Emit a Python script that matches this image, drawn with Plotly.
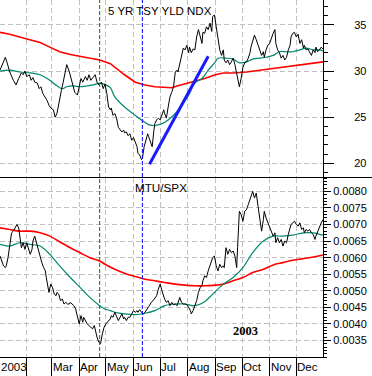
import pandas as pd
import plotly.graph_objects as go

# ---------------- data (day-of-year 2003, Jan 1 = 0) ----------------
tsy_days = [1, 7, 9, 12, 16, 19, 22, 25, 27, 29, 31, 34, 36, 38, 40, 43, 45, 47, 49, 52, 54, 56, 58, 61, 63, 65, 67, 70, 72, 74,
            76, 79, 81, 83, 85, 88, 90, 92, 94, 97, 99, 101, 103, 106, 108, 110, 112, 115, 117, 119, 121, 123, 125, 126, 128, 130,
            132, 134, 136, 138, 140, 141, 143, 145, 147, 149, 151, 153, 155, 156, 158, 160, 161, 163, 165, 167, 168, 170, 172, 174,
            175, 177, 179, 181, 183, 185, 186, 188, 190, 192, 194, 196, 198, 200, 201, 203, 205, 207, 209, 211, 213, 214, 216, 218,
            220, 222, 224, 226, 228, 229, 231, 233, 235, 237, 239, 240, 242, 244, 246, 248, 250, 252, 253, 255, 257, 259, 261, 263,
            265, 267, 268, 270, 272, 274, 276, 278, 280, 282, 283, 285, 287, 289, 291, 293, 295, 297, 298, 300, 302, 304, 306, 308,
            310, 311, 313, 315, 317, 319, 321, 323, 325, 327, 328, 330, 332, 334, 336, 338, 340, 342, 343, 345, 347, 349, 351, 353,
            355, 356, 358, 360, 362, 364]
tsy_vals = [30.1, 31.5, 30.9, 29.9, 29.0, 28.5, 29.2, 29.8, 29.6, 30.0, 29.4, 29.6, 29.0, 29.3, 28.8, 28.7, 28.1, 28.3, 27.6, 27.2,
            26.8, 26.3, 26.0, 25.8, 25.0, 25.4, 26.6, 27.9, 28.8, 29.6, 30.7, 29.9, 29.2, 28.5, 27.7, 27.4, 28.3, 29.2, 28.8, 29.4,
            29.0, 29.6, 29.0, 29.3, 29.6, 28.8, 28.5, 28.8, 28.1, 28.6, 27.6, 26.1, 25.8, 26.0, 25.2, 25.4, 24.9, 23.9, 23.6, 23.4,
            23.6, 23.3, 23.4, 23.0, 23.2, 22.5, 22.8, 22.2, 21.8, 21.1, 20.9, 20.4, 20.5, 21.8, 22.5, 23.2, 22.9, 22.2, 21.8, 23.6,
            24.3, 24.7, 24.9, 24.7, 25.2, 25.8, 25.4, 24.9, 26.1, 27.2, 27.7, 28.3, 29.9, 30.1, 29.9, 30.7, 31.7, 32.5, 32.3, 32.8,
            32.0, 32.6, 32.0, 32.4, 32.3, 33.7, 34.5, 33.7, 33.0, 34.2, 34.1, 34.8, 34.5, 35.2, 34.3, 35.9, 36.1, 34.8, 33.4, 32.3,
            31.7, 32.3, 31.2, 30.9, 31.2, 30.7, 31.0, 31.4, 30.7, 29.8, 29.0, 28.3, 29.2, 30.4, 30.9, 31.0, 31.4, 32.0, 32.6, 33.4,
            33.9, 33.4, 32.8, 32.3, 31.7, 32.1, 31.5, 32.3, 32.8, 33.0, 33.7, 34.1, 34.5, 33.0, 32.3, 32.0, 31.4, 31.7, 31.2, 31.5,
            32.3, 32.8, 33.7, 34.1, 34.2, 33.7, 34.0, 33.0, 33.4, 32.5, 32.8, 32.3, 32.4, 32.0, 31.7, 32.3, 32.0, 32.6, 32.1, 32.3,
            32.6, 32.4]

tsy_ma_short_days = [1, 12, 23, 35, 46, 57, 65, 71, 76, 83, 91, 99, 106, 113, 120, 125, 130, 141, 153, 160, 168, 175, 183, 190,
                     198, 205, 213, 220, 228, 235, 243, 246, 255, 263, 270, 278, 285, 293, 300, 308, 315, 323, 330, 338, 345,
                     353, 360, 364]
tsy_ma_short = [30.0, 30.1, 29.9, 29.8, 29.6, 29.0, 28.4, 28.1, 28.3, 28.4, 28.3, 28.4, 28.5, 28.7, 28.5, 28.2, 27.2, 26.1, 25.2,
                24.7, 24.2, 24.1, 24.3, 24.7, 25.4, 26.3, 27.4, 28.7, 29.2, 30.1, 31.0, 31.4, 31.4, 31.3, 30.9, 31.0, 31.3, 31.4,
                31.5, 31.7, 32.1, 32.1, 32.1, 32.3, 32.5, 32.3, 32.3, 32.2]

tsy_ma_long_days = [1, 12, 23, 35, 46, 57, 68, 80, 91, 102, 113, 125, 130, 141, 153, 164, 175, 186, 194, 201, 209, 216, 224,
                    231, 243, 252, 263, 278, 293, 308, 323, 338, 353, 364]
tsy_ma_long = [34.2, 34.0, 33.7, 33.4, 33.1, 32.6, 32.1, 31.8, 31.6, 31.4, 31.2, 30.8, 30.4, 29.6, 28.8, 28.5, 28.3, 28.2, 28.2,
               28.4, 28.6, 28.8, 29.0, 29.2, 29.6, 29.8, 29.8, 29.9, 30.1, 30.3, 30.5, 30.7, 30.9, 31.0]

mtu_days = [1, 3, 5, 7, 8, 10, 12, 14, 16, 18, 20, 22, 23, 25, 27, 29, 31, 33, 35, 37, 38, 40, 42, 44, 46, 48, 50, 52, 53, 55,
            56, 58, 60, 62, 64, 65, 67, 69, 71, 73, 75, 77, 79, 80, 82, 84, 86, 88, 90, 92, 94, 95, 97, 99, 101, 103, 105, 107,
            109, 110, 112, 114, 116, 118, 120, 122, 125, 126, 128, 130, 132, 134, 136, 138, 140, 141, 143, 145, 147, 149, 151,
            153, 155, 156, 158, 160, 162, 164, 166, 168, 170, 171, 173, 175, 177, 179, 181, 183, 185, 186, 188, 190, 192, 194,
            196, 198, 200, 201, 203, 205, 207, 209, 211, 213, 215, 216, 218, 220, 222, 224, 226, 228, 229, 231, 233, 235, 237,
            239, 240, 242, 244, 246, 248, 250, 252, 253, 255, 257, 259, 261, 263, 265, 267, 268, 270, 272, 274, 276, 278, 280,
            282, 283, 285, 287, 289, 291, 293, 295, 297, 298, 300, 302, 304, 306, 308, 310, 311, 313, 315, 317, 319, 321, 323,
            325, 327, 328, 330, 332, 334, 336, 338, 340, 342, 343, 345, 347, 349, 351, 353, 355, 356, 358, 360, 362, 364]
mtu_vals = [0.00605, 0.0059, 0.00575, 0.0057, 0.00575, 0.0060, 0.00645, 0.00675, 0.0068, 0.0069, 0.0070, 0.0069, 0.00665,
            0.0063, 0.00645, 0.00625, 0.00645, 0.00625, 0.0061, 0.00625, 0.0065, 0.00665, 0.00645, 0.0062, 0.0060, 0.00585,
            0.0057, 0.0056, 0.0054, 0.00515, 0.00495, 0.0052, 0.0051, 0.0049, 0.00485, 0.00495, 0.0049, 0.0047, 0.00475, 0.0046,
            0.00465, 0.0046, 0.0046, 0.00465, 0.0046, 0.00455, 0.00445, 0.0042, 0.0040, 0.00425, 0.00405, 0.0042, 0.0041, 0.0040,
            0.00395, 0.0039, 0.00385, 0.00395, 0.0037, 0.0036, 0.00345, 0.0034, 0.0037, 0.0039, 0.0040, 0.00405, 0.00415,
            0.00425, 0.0042, 0.00435, 0.0042, 0.0041, 0.0042, 0.0043, 0.00415, 0.0042, 0.0041, 0.0042, 0.0042, 0.0043, 0.0044,
            0.00435, 0.0044, 0.00435, 0.00443, 0.00435, 0.0043, 0.00435, 0.00445, 0.00452, 0.0046, 0.00465, 0.0047, 0.00478,
            0.00485, 0.00505, 0.0052, 0.0050, 0.0048, 0.00475, 0.00465, 0.0047, 0.00455, 0.00465, 0.00458, 0.0046, 0.00455,
            0.00465, 0.0048, 0.00465, 0.0046, 0.0046, 0.00458, 0.0045, 0.0044, 0.0043, 0.0044, 0.00455, 0.0047, 0.00495, 0.0051,
            0.00515, 0.0053, 0.00545, 0.0054, 0.0056, 0.00575, 0.0059, 0.0060, 0.00605, 0.00575, 0.0056, 0.0058, 0.0057,
            0.00575, 0.0057, 0.0063, 0.0061, 0.00625, 0.00615, 0.0062, 0.00605, 0.0057, 0.0063, 0.0074, 0.0073, 0.0071, 0.0074,
            0.00745, 0.0076, 0.00775, 0.00785, 0.0080, 0.0078, 0.00795, 0.00755, 0.0072, 0.0068, 0.00715, 0.0074, 0.0072,
            0.00705, 0.0069, 0.00675, 0.00665, 0.00675, 0.00645, 0.0066, 0.00645, 0.00655, 0.00635, 0.0065, 0.00645, 0.0067,
            0.0069, 0.0070, 0.00705, 0.0071, 0.0070, 0.00695, 0.00705, 0.00685, 0.0069, 0.00675, 0.00685, 0.0068, 0.00685,
            0.00675, 0.0067, 0.00655, 0.00665, 0.0068, 0.00695, 0.00705, 0.00715]

mtu_ma_short_days = [1, 12, 23, 35, 46, 57, 68, 80, 91, 102, 113, 119, 125, 130, 141, 153, 164, 175, 186, 198, 209, 220, 231,
                     240, 252, 263, 274, 285, 297, 308, 319, 330, 342, 353, 364]
mtu_ma_short = [0.0064, 0.00635, 0.00645, 0.0064, 0.00635, 0.0061, 0.00575, 0.0054, 0.0051, 0.0048, 0.00455, 0.00445, 0.0044,
                0.00435, 0.0043, 0.00428, 0.00432, 0.0044, 0.00455, 0.0046, 0.0046, 0.00455, 0.00467, 0.0049, 0.0052, 0.0054,
                0.0057, 0.00615, 0.0065, 0.00665, 0.00665, 0.00668, 0.00675, 0.00675, 0.00668]

mtu_ma_long_days = [1, 12, 23, 35, 46, 57, 68, 80, 91, 102, 113, 119, 130, 141, 153, 164, 175, 186, 198, 209, 220, 231, 243,
                    252, 263, 274, 285, 297, 308, 319, 330, 342, 353, 364]
mtu_ma_long = [0.0069, 0.00685, 0.0068, 0.0068, 0.00675, 0.00665, 0.00648, 0.0063, 0.00615, 0.0060, 0.0059, 0.0058, 0.00565,
               0.00553, 0.00543, 0.00535, 0.0053, 0.00525, 0.0052, 0.00517, 0.00515, 0.00515, 0.00517, 0.0052, 0.0053, 0.0054,
               0.00555, 0.00565, 0.00578, 0.00585, 0.00592, 0.00597, 0.00602, 0.00608]

trend_dates = ["2003-06-19", "2003-08-24"]
trend_vals = [19.9, 31.6]

event_dates = ["2003-04-24", "2003-06-11"]
event_colors = ["#008000", "#0000ff"]

month_starts = ["2003-02-01", "2003-03-01", "2003-04-01", "2003-05-01", "2003-06-01", "2003-07-01",
                "2003-08-01", "2003-09-01", "2003-10-01", "2003-11-01", "2003-12-01"]
month_label_dates = ["2003-01-02", "2003-03-01", "2003-04-01", "2003-05-01", "2003-06-01", "2003-07-01",
                     "2003-08-01", "2003-09-01", "2003-10-01", "2003-11-01", "2003-12-01"]
month_labels = ["2003", "Mar", "Apr", "May", "Jun", "Jul", "Aug", "Sep", "Oct", "Nov", "Dec"]

tsy_ticks = [20, 25, 30, 35]
mtu_ticks = [0.0035, 0.0040, 0.0045, 0.0050, 0.0055, 0.0060, 0.0065, 0.0070, 0.0075, 0.0080]
mtu_ticktext = ["0.0035", "0.0040", "0.0045", "0.0050", "0.0055", "0.0060", "0.0065", "0.0070", "0.0075", "0.0080"]

# ---------------- helpers ----------------
BASE = pd.Timestamp("2003-01-01")


def to_dates(days):
    return [BASE + pd.Timedelta(days=d) for d in days]


FONT = "Liberation Sans, Arial, sans-serif"
GRID = "#c0c0c0"
TEAL = "#00876e"
SPLIT = 0.5028

fig = go.Figure()

# top panel
fig.add_trace(go.Scatter(x=to_dates(tsy_ma_long_days), y=tsy_ma_long, mode="lines",
                         line=dict(color="#ff0000", width=1.6), xaxis="x2", yaxis="y2"))
fig.add_trace(go.Scatter(x=to_dates(tsy_ma_short_days), y=tsy_ma_short, mode="lines",
                         line=dict(color=TEAL, width=1.2, shape="spline"), xaxis="x2", yaxis="y2"))
fig.add_trace(go.Scatter(x=to_dates(tsy_days), y=tsy_vals, mode="lines",
                         line=dict(color="black", width=1), xaxis="x2", yaxis="y2"))
fig.add_trace(go.Scatter(x=trend_dates, y=trend_vals, mode="lines",
                         line=dict(color="#1a1aff", width=3), xaxis="x2", yaxis="y2"))

# bottom panel
fig.add_trace(go.Scatter(x=to_dates(mtu_ma_long_days), y=mtu_ma_long, mode="lines",
                         line=dict(color="#ff0000", width=1.6, shape="spline"), xaxis="x", yaxis="y"))
fig.add_trace(go.Scatter(x=to_dates(mtu_ma_short_days), y=mtu_ma_short, mode="lines",
                         line=dict(color=TEAL, width=1.2, shape="spline"), xaxis="x", yaxis="y"))
fig.add_trace(go.Scatter(x=to_dates(mtu_days), y=mtu_vals, mode="lines",
                         line=dict(color="black", width=1), xaxis="x", yaxis="y"))

shapes = []
for d, c in zip(event_dates, event_colors):
    shapes.append(dict(type="line", xref="x", yref="paper", x0=d, x1=d, y0=0, y1=1,
                       line=dict(color=c, width=1, dash="4px,2px"), layer="above"))
shapes.append(dict(type="line", xref="paper", yref="paper", x0=0, x1=372 / 323, y0=SPLIT, y1=SPLIT,
                   line=dict(color="black", width=1)))

annotations = [
    dict(text="5 YR TSY YLD NDX", xref="paper", yref="paper", x=0.495, y=1 - 11 / 357, xanchor="center",
         yanchor="middle", showarrow=False, font=dict(family=FONT, size=11.5, color="black")),
    dict(text="MTU/SPX", xref="paper", yref="paper", x=0.498, y=1 - 187 / 357, xanchor="center",
         yanchor="middle", showarrow=False, font=dict(family=FONT, size=11.7, color="black")),
    dict(text="<b>2003</b>", xref="paper", yref="paper", x=0.759, y=1 - 330.5 / 357, xanchor="center",
         yanchor="middle", showarrow=False, font=dict(family="Liberation Serif, Times New Roman, serif", size=12.5,
                                                       color="black")),
]
for d, t in zip(month_label_dates, month_labels):
    annotations.append(dict(text=t, xref="x", yref="paper", x=d, y=0, xanchor="left", yanchor="top",
                            yshift=-2, xshift=-1, showarrow=False,
                            font=dict(family=FONT, size=11.5, color="black")))

grid_common = dict(showgrid=True, gridcolor=GRID, gridwidth=1, griddash="5px,3px", zeroline=False)

fig.update_layout(
    width=372, height=376,
    margin=dict(l=0, r=49, t=0, b=19, pad=0),
    paper_bgcolor="white", plot_bgcolor="white",
    showlegend=False,
    hovermode=False,
    shapes=shapes,
    annotations=annotations,
    xaxis=dict(domain=[0, 1], anchor="y", type="date", range=["2003-01-02", "2003-12-31"],
               tickmode="array", tickvals=month_starts, showticklabels=False,
               ticks="outside", ticklen=19, tickcolor="black", tickwidth=1,
               showline=True, linecolor="black", linewidth=1, **grid_common),
    xaxis2=dict(domain=[0, 1], anchor="y2", type="date", matches="x",
                tickmode="array", tickvals=month_starts, showticklabels=False, ticks="",
                showline=False, **grid_common),
    yaxis=dict(domain=[0, SPLIT], anchor="x", side="right", range=[0.0030, 0.00842],
               tickmode="array", tickvals=mtu_ticks, ticktext=mtu_ticktext,
               ticks="outside", ticklen=7, tickcolor="black",
               minor=dict(tickmode="linear", tick0=0, dtick=0.0001, ticks="outside", ticklen=3,
                          tickcolor="black", showgrid=False),
               showline=True, linecolor="black", linewidth=1,
               tickfont=dict(family=FONT, size=11, color="black"), **grid_common),
    yaxis2=dict(domain=[SPLIT, 1], anchor="x2", side="right", range=[18.46, 37.71],
                tickmode="array", tickvals=tsy_ticks,
                ticks="outside", ticklen=10, tickcolor="black",
                minor=dict(tickmode="linear", tick0=0, dtick=1, ticks="outside", ticklen=4,
                           tickcolor="black", showgrid=False),
                showline=True, linecolor="black", linewidth=1, ticklabelstandoff=18,
                tickfont=dict(family=FONT, size=11, color="black"), **grid_common),
)

fig.write_html("out.html", config={"displayModeBar": False},
               post_script="document.body.style.margin='0';document.body.style.padding='0';")
